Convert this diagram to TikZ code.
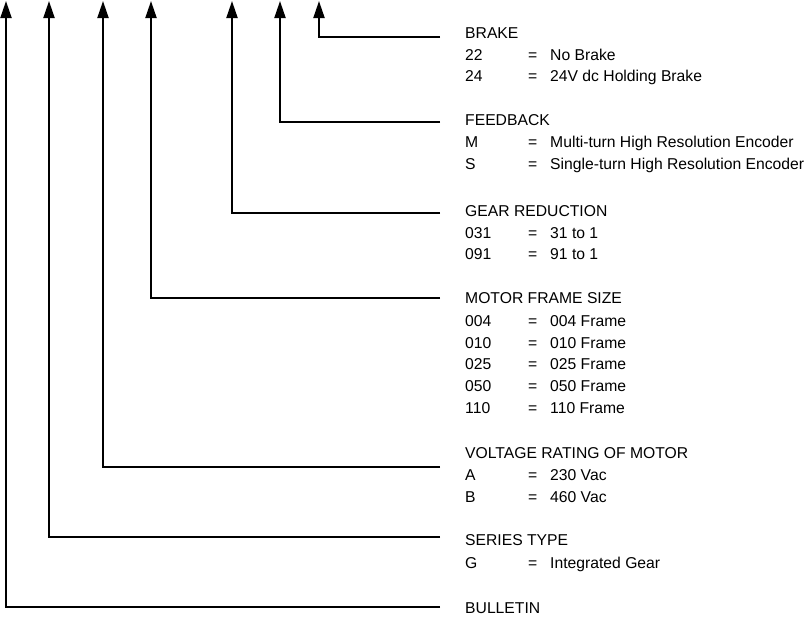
\documentclass[tikz,border=0pt]{standalone}
\usepackage{fontspec}
\setmainfont{Liberation Sans}
\usetikzlibrary{arrows.meta}
\begin{document}
\begin{tikzpicture}[x=1pt,y=-1pt,
  conn/.style={line width=2pt,-{Triangle[width=11pt,length=17pt]}},
  txt/.style={anchor=base west,inner sep=0pt,font=\fontsize{15.7}{18}\selectfont},
  eqs/.style={txt},
  desc/.style={txt}]
\useasboundingbox (0,0) rectangle (811,619);

% ---- line ends (left of the titles) and arrow tips
\coordinate (bkE) at (440,37);   \coordinate (bkT) at (319,1);
\coordinate (fbE) at (440,122);  \coordinate (fbT) at (280,1);
\coordinate (grE) at (440,213);  \coordinate (grT) at (232,1);
\coordinate (mfE) at (440,298);  \coordinate (mfT) at (151,1);
\coordinate (vrE) at (440,467);  \coordinate (vrT) at (103,1);
\coordinate (stE) at (440,537);  \coordinate (stT) at (49,1);
\coordinate (buE) at (440,607);  \coordinate (buT) at (6,1);

\draw[conn] (bkE) -| (bkT);
\draw[conn] (fbE) -| (fbT);
\draw[conn] (grE) -| (grT);
\draw[conn] (mfE) -| (mfT);
\draw[conn] (vrE) -| (vrT);
\draw[conn] (stE) -| (stT);
\draw[conn] (buE) -| (buT);

% ---- BRAKE
\node[txt] (bk) at (465,38.6) {BRAKE};
\node[txt] (bk1) at (465,60) {22};  \node[eqs] (bk1e) at (528,60) {=}; \node[desc] (bk1d) at (550,60) {No Brake};
\node[txt] (bk2) at (465,81.6) {24};  \node[eqs] (bk2e) at (528,81.6) {=}; \node[desc] (bk2d) at (550,81.6) {24V dc Holding Brake};

% ---- FEEDBACK
\node[txt] (fb) at (465,125.6) {FEEDBACK};
\node[txt] (fb1) at (465,147.6) {M};  \node[eqs] (fb1e) at (528,147.6) {=}; \node[desc] (fb1d) at (550,147.6) {Multi-turn High Resolution Encoder};
\node[txt] (fb2) at (465,169.6) {S};  \node[eqs] (fb2e) at (528,169.6) {=}; \node[desc] (fb2d) at (550,169.6) {Single-turn High Resolution Encoder};

% ---- GEAR REDUCTION
\node[txt] (gr) at (465,216.6) {GEAR REDUCTION};
\node[txt] (gr1) at (465,238.3) {031};  \node[eqs] (gr1e) at (528,238.3) {=}; \node[desc] (gr1d) at (550,238.3) {31 to 1};
\node[txt] (gr2) at (465,259.8) {091};  \node[eqs] (gr2e) at (528,259.8) {=}; \node[desc] (gr2d) at (550,259.8) {91 to 1};

% ---- MOTOR FRAME SIZE
\node[txt] (mf) at (465,303.6) {MOTOR FRAME SIZE};
\node[txt] (mf1) at (465,326) {004};  \node[eqs] (mf1e) at (528,326) {=}; \node[desc] (mf1d) at (550,326) {004 Frame};
\node[txt] (mf2) at (465,348) {010};  \node[eqs] (mf2e) at (528,348) {=}; \node[desc] (mf2d) at (550,348) {010 Frame};
\node[txt] (mf3) at (465,369.5) {025};  \node[eqs] (mf3e) at (528,369.5) {=}; \node[desc] (mf3d) at (550,369.5) {025 Frame};
\node[txt] (mf4) at (465,391) {050};  \node[eqs] (mf4e) at (528,391) {=}; \node[desc] (mf4d) at (550,391) {050 Frame};
\node[txt] (mf5) at (465,413) {110};  \node[eqs] (mf5e) at (528,413) {=}; \node[desc] (mf5d) at (550,413) {110 Frame};

% ---- VOLTAGE RATING OF MOTOR
\node[txt] (vr) at (465,458.6) {VOLTAGE RATING OF MOTOR};
\node[txt] (vr1) at (465,480.6) {A};  \node[eqs] (vr1e) at (528,480.6) {=}; \node[desc] (vr1d) at (550,480.6) {230 Vac};
\node[txt] (vr2) at (465,502.6) {B};  \node[eqs] (vr2e) at (528,502.6) {=}; \node[desc] (vr2d) at (550,502.6) {460 Vac};

% ---- SERIES TYPE
\node[txt] (st) at (465,545.6) {SERIES TYPE};
\node[txt] (st1) at (465,568) {G};  \node[eqs] (st1e) at (528,568) {=}; \node[desc] (st1d) at (550,568) {Integrated Gear};

% ---- BULLETIN
\node[txt] (bu) at (465,613.4) {BULLETIN};
\end{tikzpicture}
\end{document}
